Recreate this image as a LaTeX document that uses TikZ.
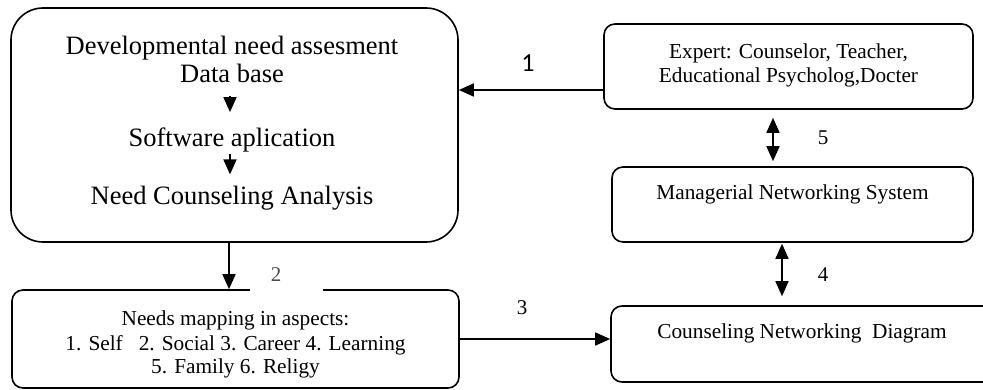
\documentclass[tikz,border=0pt]{standalone}
\usepackage{fontspec}
\setmainfont{Liberation Serif}
\newfontfamily\labelsans{Carlito}
\usetikzlibrary{arrows.meta}

\begin{document}
\begin{tikzpicture}[x=1pt,y=-1pt,
  box/.style={draw, line width=1.6pt, rounded corners=11pt, inner sep=0pt},
  txt/.style={inner sep=0pt, anchor=base, font=\fontsize{21.3}{24}\selectfont},
  bigtxt/.style={inner sep=0pt, anchor=base, font=\fontsize{26.5}{30}\selectfont},
  num/.style={inner sep=0pt, anchor=base, font=\fontsize{21}{24}\selectfont},
  tip/.tip={Triangle[length=15pt,width=13pt]},
  arr/.style={line width=1.6pt, -tip},
  dbl/.style={line width=1.6pt, tip-tip},
]
\useasboundingbox (0,0) rectangle (983,390);
\clip (0,0) rectangle (983,390);

% assessment block
\node[box, rounded corners=32pt, minimum width=447pt, minimum height=234pt] (big) at (234.5,125) {};
\node[bigtxt] (dev) at (232,55) {Developmental need assesment};
\node[bigtxt] (db)  at (232,83) {Data base};
\node[bigtxt] (sw)  at (232,147) {Software aplication};
\node[bigtxt] (nca) at (232,205) {Need Counseling Analysis};
\draw[arr, shorten <=13pt, shorten >=16pt] ([xshift=-2pt]db.south) -- ([xshift=-2pt]db.south |- sw.north);
\draw[arr, shorten <=1pt, shorten >=12pt] ([xshift=-2pt]sw.south) -- ([xshift=-2pt]sw.south |- nca.north);

% needs mapping
\node[box, minimum width=447pt, minimum height=98pt] (map) at (235.5,339) {};
\node[txt] (m1) at (235.5,325) {Needs mapping in aspects:};
\node[txt] (m2) at (235.5,350) {1. Self\ \ \ 2. Social 3. Career 4. Learning};
\node[txt] (m3) at (235.5,373) {5. Family 6. Religy};

% experts
\node[box, minimum width=369pt, minimum height=85pt] (exp) at (788.5,66.5) {};
\node[txt] (e1) at (788.5,59) {Expert: Counselor, Teacher,};
\node[txt] (e2) at (788.5,83) {Educational Psycholog,Docter};

% managerial system
\node[box, minimum width=361pt, minimum height=75pt] (mgr) at (792.5,204.5) {};
\node[txt] (g1) at (792.5,200) {Managerial Networking System};

% networking diagram
\node[box, minimum width=389pt, minimum height=76pt] (cnd) at (805.5,344) {};
\node[txt] (c1) at (802,338) {Counseling Networking\ \ Diagram};

% connectors
\draw[arr] ([yshift=-23.5pt]exp.west) -- ([yshift=-23.5pt]exp.west -| big.east);
\draw[arr] ([xshift=-5.5pt]big.south) -- ([xshift=-5.5pt]big.south |- map.north);
\draw[arr] (map.east) -- (map.east -| cnd.west);
\draw[dbl, shorten <=8pt, shorten >=5pt] ([xshift=-15.5pt]exp.south) -- ([xshift=-15.5pt]exp.south |- mgr.north);
\draw[dbl, shorten <=1pt, shorten >=9pt] ([xshift=-10.5pt]mgr.south) -- ([xshift=-10.5pt]mgr.south |- cnd.north);

% step numbers
\node[num, font=\labelsans\fontsize{26}{30}\selectfont] (n1) at (528,72) {1};
\node[num, anchor=base, fill=white, inner sep=0pt, minimum width=73pt, text depth=10pt, text=black!70] (n2) at (286.5,282) {2\rule{21pt}{0pt}};
\node[num] (n3) at (522,314) {3};
\node[num] (n4) at (823,281) {4};
\node[num] (n5) at (823,145) {5};
\end{tikzpicture}
\end{document}
